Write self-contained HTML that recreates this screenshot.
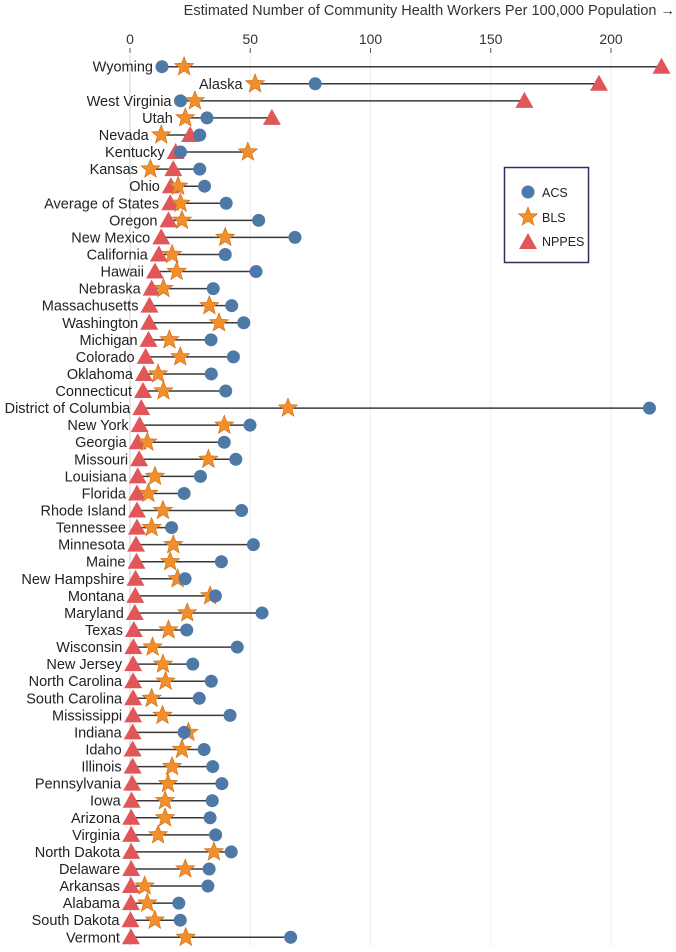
<!DOCTYPE html>
<html><head><meta charset="utf-8">
<style>
html,body{margin:0;padding:0;background:#fff;}
svg{display:block;font-family:"Liberation Sans",sans-serif;}
</style></head>
<body>
<svg id="chart" width="676" height="952" viewBox="0 0 676 952">
<text x="675" y="15" text-anchor="end" font-size="14.5" fill="#333">Estimated Number of Community Health Workers Per 100,000 Population →</text>
<g id="grid"></g>
<g id="rows"></g>
<g>
<rect x="504.5" y="167.5" width="84" height="95" fill="#fff" stroke="#2e3160" stroke-width="1.5"/>
<circle cx="528" cy="192" r="6.5" fill="#4e79a7"/>
<text x="542" y="197" font-size="12.5" fill="#222">ACS</text>
<polygon id="lstar" fill="#f28e2b" stroke="#c86d12" stroke-width="0.6"/>
<text x="542" y="222" font-size="12.5" fill="#222">BLS</text>
<polygon points="528,233 537,249 519,249" fill="#e15759"/>
<text x="542" y="246" font-size="12.5" fill="#222">NPPES</text>
</g>
</svg>
<script>
const states = ["Wyoming","Alaska","West Virginia","Utah","Nevada","Kentucky","Kansas","Ohio","Average of States","Oregon","New Mexico","California","Hawaii","Nebraska","Massachusetts","Washington","Michigan","Colorado","Oklahoma","Connecticut","District of Columbia","New York","Georgia","Missouri","Louisiana","Florida","Rhode Island","Tennessee","Minnesota","Maine","New Hampshire","Montana","Maryland","Texas","Wisconsin","New Jersey","North Carolina","South Carolina","Mississippi","Indiana","Idaho","Illinois","Pennsylvania","Iowa","Arizona","Virginia","North Dakota","Delaware","Arkansas","Alabama","South Dakota","Vermont"];
const acs = [13.3,77,21,32,29,21,29,31,40,53.5,68.6,39.6,52.4,34.6,42.3,47.3,33.7,43,33.8,39.8,216,49.9,39.2,44,29.3,22.5,46.4,17.3,51.3,38,22.9,35.5,54.9,23.6,44.6,26.1,33.8,28.8,41.6,22.5,30.8,34.4,38.2,34.2,33.3,35.6,42.1,32.9,32.4,20.3,20.9,66.8];
const bls = [22.5,52,27,23,13,49,8.5,20,21,21.6,39.6,17.5,19.4,13.9,33,37,16.4,20.9,11.7,13.9,65.7,39.2,7.2,32.6,10.4,7.6,13.7,9,18,16.7,19.8,33.3,23.8,16,9.4,13.7,14.8,9,13.5,24.3,21.6,17.5,15.8,14.6,14.6,11.7,34.9,23,6.1,7.2,10.3,23.2];
const nppes = [221,195,164,59,25,19,18,17,16.7,16,13,12,10.4,9,8.1,8,7.7,6.5,5.8,5.4,4.7,4,3.2,3.8,3.2,2.9,2.9,2.9,2.5,2.7,2.3,2.2,2,1.6,1.4,1.3,1.3,1.3,1.3,1.1,1.1,1.1,0.9,0.7,0.5,0.5,0.5,0.5,0.4,0.4,0.2,0.4];
const ticks = [0,50,100,150,200];

const NS="http://www.w3.org/2000/svg";
const x = v => 130 + v*2.405;
const y = i => 66.7 + i*17.07;
function mk(tag, attrs, parent){const e=document.createElementNS(NS,tag);for(const k in attrs)e.setAttribute(k,attrs[k]);parent.appendChild(e);return e;}
function starPts(cx,cy,R,r){let p=[];for(let k=0;k<10;k++){const a=-Math.PI/2+k*Math.PI/5;const rr=k%2?r:R;p.push((cx+rr*Math.cos(a)).toFixed(1)+","+(cy+rr*Math.sin(a)).toFixed(1));}return p.join(" ");}
document.getElementById('lstar').setAttribute('points',starPts(528,217,10,4.3));

const grid=document.getElementById('grid');
ticks.forEach(t=>{
  const gl=mk('line',{x1:x(t),x2:x(t),y1:55,y2:946,stroke:t===0?'#cfcfcf':'#ebebeb','stroke-width':1},grid);
  
  
  const tk=mk('line',{x1:x(t),x2:x(t),y1:48,y2:53,stroke:'#555','stroke-width':1},grid);
  
  
  const tl=mk('text',{x:x(t),y:44,'text-anchor':'middle','font-size':14,fill:'#333'},grid);
  tl.textContent=t;
  
  
});

const rows=document.getElementById('rows');
states.forEach((s,i)=>{
  const cy=y(i);
  const g=mk('g',{},rows);
  
  
  const vals=[acs[i],bls[i],nppes[i]];
  const mn=Math.min(...vals), mx=Math.max(...vals);
  const ln=mk('line',{x1:x(mn),x2:x(mx),y1:cy,y2:cy,stroke:'#3a3a3a','stroke-width':1.5},g);
  
  
  let off = mn===bls[i]?12.5:(mn===acs[i]?9:11);
  const lb=mk('text',{x:x(mn)-off,y:cy+5,'text-anchor':'end','font-size':14.5,fill:'#222'},g);
  lb.textContent=s;
  
  
  const tx=x(nppes[i]);
  const tr=mk('polygon',{points:`${tx},${cy-9} ${tx+9},${cy+7} ${tx-9},${cy+7}`,fill:'#e15759'},g);
  
  
  const st=mk('polygon',{points:starPts(x(bls[i]),cy,10,4.3),fill:'#f28e2b',stroke:'#c86d12','stroke-width':0.6},g);
  
  
  const c=mk('circle',{cx:x(acs[i]),cy:cy,r:6.5,fill:'#4e79a7'},g);
  
  
});
</script>
</body></html>
